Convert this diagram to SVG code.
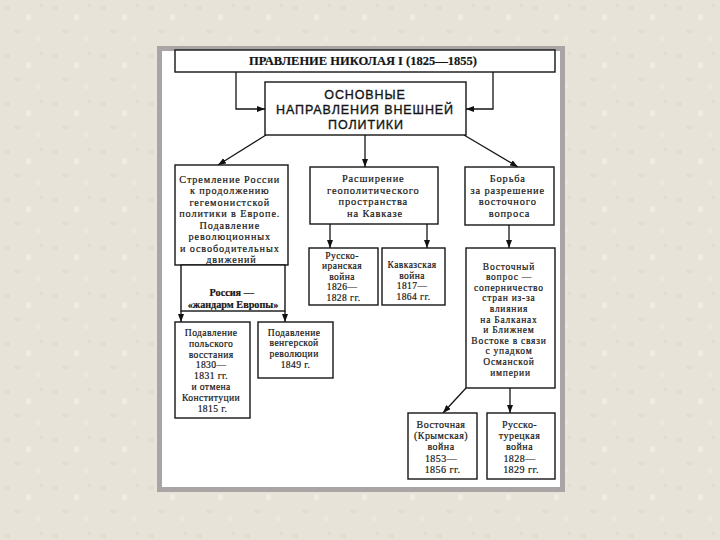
<svg xmlns="http://www.w3.org/2000/svg" width="720" height="540" viewBox="0 0 720 540">
<defs>
<pattern id="tex" width="48" height="48" patternUnits="userSpaceOnUse">
<rect width="48" height="48" fill="#e8e3d9"/>
<rect x="4" y="6" width="6" height="4" fill="#dcd5c9" opacity="0.5"/>
<rect x="26" y="14" width="5" height="6" fill="#f3efe7" opacity="0.6"/>
<rect x="14" y="30" width="7" height="3" fill="#dad3c6" opacity="0.4"/>
<rect x="36" y="36" width="4" height="5" fill="#f2eee6" opacity="0.5"/>
<rect x="40" y="4" width="3" height="3" fill="#d8d0c3" opacity="0.4"/>
</pattern>
<marker id="ah" markerWidth="8" markerHeight="6" refX="8" refY="3" orient="auto" markerUnits="userSpaceOnUse">
<path d="M0,0 L8,3 L0,6 z" fill="#111"/>
</marker>
<style>
.box{fill:#fff;stroke:#151515;stroke-width:1.4}
.ln{fill:none;stroke:#151515;stroke-width:1.3}
.t{font-family:"Liberation Serif","DejaVu Serif",serif;fill:#151515;stroke:#151515;stroke-width:0.2;text-anchor:middle}
.m{font-size:10.4px;letter-spacing:0.85px}
.l{font-size:10.2px;letter-spacing:0.9px}
.s{font-size:9.5px;letter-spacing:0.45px}
.p{font-size:9.6px;letter-spacing:0.4px}
.c{font-size:10px;letter-spacing:0.45px}
.e{font-size:9.5px;letter-spacing:0.75px}
.b{font-weight:bold}
.h{font-family:"Liberation Sans","DejaVu Sans",sans-serif;font-size:12.5px;letter-spacing:0.9px;fill:#151515;text-anchor:middle;stroke:#151515;stroke-width:0.35}
</style>
</defs>
<rect width="720" height="540" fill="url(#tex)"/>
<rect x="159.5" y="48.5" width="403" height="441" fill="#fff" stroke="#aaa5a5" stroke-width="5"/>

<g id="connectors">
<polyline class="ln" points="236,72 236,109 265,109" marker-end="url(#ah)"/>
<polyline class="ln" points="493,72 493,109 466,109" marker-end="url(#ah)"/>
<line class="ln" x1="266" y1="135" x2="218" y2="165" marker-end="url(#ah)"/>
<line class="ln" x1="365" y1="135" x2="365" y2="167" marker-end="url(#ah)"/>
<line class="ln" x1="464" y1="135" x2="518" y2="167" marker-end="url(#ah)"/>
<line class="ln" x1="330" y1="224" x2="330" y2="248" marker-end="url(#ah)"/>
<line class="ln" x1="427" y1="224" x2="427" y2="248" marker-end="url(#ah)"/>
<line class="ln" x1="509" y1="225" x2="509" y2="248" marker-end="url(#ah)"/>
<line class="ln" x1="181" y1="311" x2="181" y2="322" marker-end="url(#ah)"/>
<line class="ln" x1="285" y1="311" x2="285" y2="322" marker-end="url(#ah)"/>
<line class="ln" x1="466" y1="388" x2="443" y2="413" marker-end="url(#ah)"/>
<line class="ln" x1="510" y1="388" x2="510" y2="413" marker-end="url(#ah)"/>
</g>

<g id="title">
<rect class="box" x="175" y="50" width="380" height="22"/>
<text class="t b" x="363" y="65" font-size="12.5">ПРАВЛЕНИЕ НИКОЛАЯ I (1825—1855)</text>
</g>

<g id="main">
<rect class="box" x="265" y="82" width="201" height="53"/>
<text class="h" x="365" y="99">ОСНОВНЫЕ</text>
<text class="h" x="365" y="114">НАПРАВЛЕНИЯ ВНЕШНЕЙ</text>
<text class="h" x="366" y="128.5">ПОЛИТИКИ</text>
</g>

<g id="europe">
<rect class="box" x="175" y="165" width="113" height="100"/>
<text class="t l">
<tspan x="231.5" y="182.5">Стремление России</tspan>
<tspan x="231.5" y="194">к продолжению</tspan>
<tspan x="231.5" y="205.5">гегемонистской</tspan>
<tspan x="231.5" y="217">политики в Европе.</tspan>
<tspan x="231.5" y="228.5">Подавление</tspan>
<tspan x="231.5" y="240">революционных</tspan>
<tspan x="231.5" y="251.5">и освободительных</tspan>
<tspan x="231.5" y="263">движений</tspan>
</text>
</g>

<g id="gendarme">
<rect class="box" x="181" y="265" width="104" height="46"/>
<text class="t b" font-size="10.2">
<tspan x="233" y="296">Россия —</tspan>
<tspan x="233" y="307.5">«жандарм Европы»</tspan>
</text>
</g>

<g id="caucasus">
<rect class="box" x="310" y="167" width="128" height="57"/>
<text class="t m">
<tspan x="375" y="182">Расширение</tspan>
<tspan x="375" y="193.7">геополитического</tspan>
<tspan x="375" y="205.4">пространства</tspan>
<tspan x="375" y="217.1">на Кавказе</tspan>
</text>
</g>

<g id="east">
<rect class="box" x="465" y="167" width="89" height="58"/>
<text class="t m">
<tspan x="509.5" y="182">Борьба</tspan>
<tspan x="509.5" y="193.7">за разрешение</tspan>
<tspan x="509.5" y="205.4">восточного</tspan>
<tspan x="509.5" y="217.1">вопроса</tspan>
</text>
</g>

<g id="iran-war">
<rect class="box" x="309" y="248" width="69" height="57"/>
<text class="t s">
<tspan x="343.5" y="258.5">Русско-</tspan>
<tspan x="343.5" y="269">иранская</tspan>
<tspan x="343.5" y="279.5">война</tspan>
<tspan x="343.5" y="290">1826—</tspan>
<tspan x="343.5" y="300.5">1828 гг.</tspan>
</text>
</g>

<g id="caucasian-war">
<rect class="box" x="382" y="248" width="63" height="57"/>
<text class="t s">
<tspan x="413.5" y="268">Кавказская</tspan>
<tspan x="413.5" y="278.5">война</tspan>
<tspan x="413.5" y="289">1817—</tspan>
<tspan x="413.5" y="299.5">1864 гг.</tspan>
</text>
</g>

<g id="eastern-question">
<rect class="box" x="466" y="248" width="89" height="140"/>
<text class="t e">
<tspan x="510.5" y="269.5">Восточный</tspan>
<tspan x="510.5" y="280.1">вопрос —</tspan>
<tspan x="510.5" y="290.7">соперничество</tspan>
<tspan x="510.5" y="301.3">стран из-за</tspan>
<tspan x="510.5" y="311.9">влияния</tspan>
<tspan x="510.5" y="322.5">на Балканах</tspan>
<tspan x="510.5" y="333.1">и Ближнем</tspan>
<tspan x="510.5" y="343.7">Востоке в связи</tspan>
<tspan x="510.5" y="354.3">с упадком</tspan>
<tspan x="510.5" y="364.9">Османской</tspan>
<tspan x="510.5" y="375.5">империи</tspan>
</text>
</g>

<g id="poland">
<rect class="box" x="175" y="322" width="75" height="96"/>
<text class="t p">
<tspan x="212.5" y="336">Подавление</tspan>
<tspan x="212.5" y="346.8">польского</tspan>
<tspan x="212.5" y="357.6">восстания</tspan>
<tspan x="212.5" y="368.4">1830—</tspan>
<tspan x="212.5" y="379.2">1831 гг.</tspan>
<tspan x="212.5" y="390">и отмена</tspan>
<tspan x="212.5" y="400.8">Конституции</tspan>
<tspan x="212.5" y="411.6">1815 г.</tspan>
</text>
</g>

<g id="hungary">
<rect class="box" x="258" y="322" width="75" height="56"/>
<text class="t p">
<tspan x="295.5" y="335.5">Подавление</tspan>
<tspan x="295.5" y="346.3">венгерской</tspan>
<tspan x="295.5" y="357.1">революции</tspan>
<tspan x="295.5" y="367.9">1849 г.</tspan>
</text>
</g>

<g id="crimean-war">
<rect class="box" x="408" y="413" width="69" height="66"/>
<text class="t c">
<tspan x="442.5" y="428">Восточная</tspan>
<tspan x="442.5" y="439.2">(Крымская)</tspan>
<tspan x="442.5" y="450.4">война</tspan>
<tspan x="442.5" y="461.6">1853—</tspan>
<tspan x="442.5" y="472.8">1856 гг.</tspan>
</text>
</g>

<g id="turkish-war">
<rect class="box" x="487" y="413" width="68" height="66"/>
<text class="t c">
<tspan x="521" y="428">Русско-</tspan>
<tspan x="521" y="439.2">турецкая</tspan>
<tspan x="521" y="450.4">война</tspan>
<tspan x="521" y="461.6">1828—</tspan>
<tspan x="521" y="472.8">1829 гг.</tspan>
</text>
</g>
</svg>
